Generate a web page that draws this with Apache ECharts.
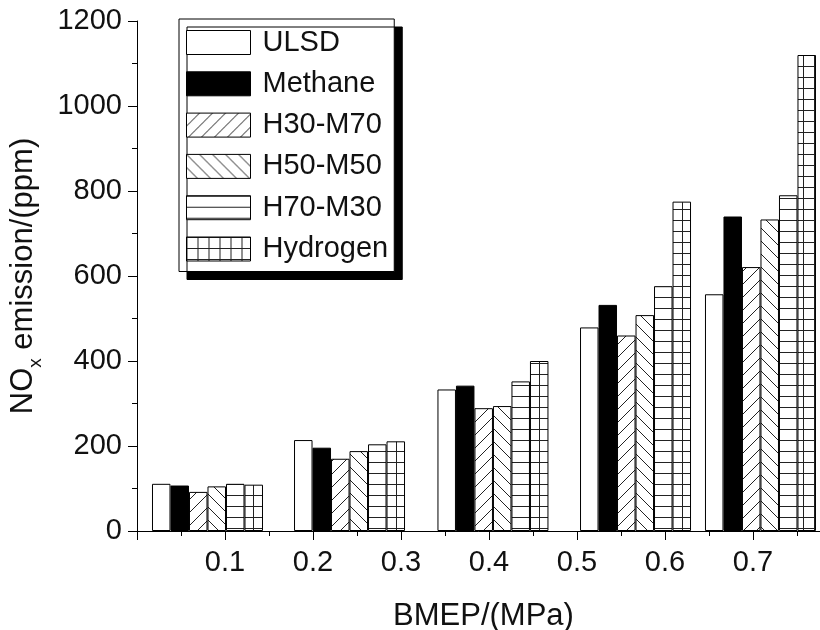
<!DOCTYPE html>
<html><head><meta charset="utf-8">
<script src="https://cdn.jsdelivr.net/npm/echarts@6/dist/echarts.min.js"></script>
<style>html,body{margin:0;padding:0;background:#fff}#c{width:820px;height:630px}</style>
</head><body><div id="c"></div>
<script>
// ---- data ----
const seriesNames = ['ULSD', 'Methane', 'H30-M70', 'H50-M50', 'H70-M30', 'Hydrogen'];
const groupPositions = [0.0801, 0.2415, 0.4045, 0.5665, 0.7085]; // x positions of bar groups (BMEP axis)
const ulsd     = [111, 214, 333, 479, 557];
const methane  = [107, 196, 342, 532, 740];
const h30m70   = [92, 170, 289, 460, 621];
const h50m50   = [105, 188, 294, 508, 733];
const h70m30   = [111, 204, 352, 576, 790];
const hydrogen = [109, 211, 400, 775, 1120];
const xAxisTitle = 'BMEP/(MPa)';

// ---- patterns ----
function tile(w, h, draw) {
  const c = document.createElement('canvas');
  c.width = w; c.height = h;
  const g = c.getContext('2d');
  g.fillStyle = '#fff'; g.fillRect(0, 0, w, h);
  g.strokeStyle = '#222'; g.lineWidth = 1;
  draw(g, w, h);
  return { image: c, repeat: 'repeat' };
}
const pSlash = tile(13, 13, (g, w, h) => {
  g.beginPath();
  for (const k of [-1, 0, 1]) { g.moveTo(k * w, h); g.lineTo(k * w + w, 0); }
  g.stroke();
});
const pBack = tile(13, 13, (g, w, h) => {
  g.beginPath();
  for (const k of [-1, 0, 1]) { g.moveTo(k * w, 0); g.lineTo(k * w + w, h); }
  g.stroke();
});
const pHoriz = tile(12, 11, (g, w, h) => {
  g.beginPath(); g.moveTo(0, 0.5); g.lineTo(w, 0.5); g.stroke();
});
const pGrid = tile(11, 11, (g, w, h) => {
  g.beginPath(); g.moveTo(0, 0.5); g.lineTo(w, 0.5); g.moveTo(0.5, 0); g.lineTo(0.5, h); g.stroke();
});
const fills = ['#ffffff', '#000000', pSlash, pBack, pHoriz, pGrid];
const values = [ulsd, methane, h30m70, h50m50, h70m30, hydrogen];

const FONT = 'Liberation Sans';
const chart = echarts.init(document.getElementById('c'), null, { renderer: 'canvas' });
chart.setOption({
  animation: false,
  backgroundColor: '#fff',
  textStyle: { fontFamily: FONT },
  grid: { left: 137, top: 21, bottom: 99, right: -10, containLabel: false, outerBoundsMode: 'none' },
  legend: {
    orient: 'vertical', left: 179, top: 19,
    itemWidth: 64, itemHeight: 24, itemGap: 12.3,
    padding: [9, 6, 8, 7],
    backgroundColor: '#fff', borderColor: '#000', borderWidth: 1,
    shadowColor: '#000', shadowOffsetX: 8, shadowOffsetY: 8, shadowBlur: 0,
    icon: 'rect',
    itemStyle: { borderColor: '#000', borderWidth: 1 },
    textStyle: { fontFamily: FONT, fontSize: 29, color: '#111', lineHeight: 24, padding: [0, 0, 0, 7] },
    data: seriesNames
  },
  xAxis: {
    type: 'value', min: 0, max: 0.7875, interval: 0.1,
    axisLine: { lineStyle: { color: '#000', width: 1 } },
    axisTick: { length: 9, lineStyle: { color: '#000' } },
    minorTick: { show: true, splitNumber: 2, length: 5, lineStyle: { color: '#000' } },
    splitLine: { show: false },
    axisLabel: { fontSize: 29, color: '#111', margin: 17, showMinLabel: false, showMaxLabel: false,
      formatter: v => v.toFixed(1) },
    name: xAxisTitle, nameLocation: 'middle', nameGap: 70,
    nameTextStyle: { fontSize: 31, color: '#111', fontFamily: FONT }
  },
  yAxis: {
    type: 'value', min: 0, max: 1200, interval: 200,
    axisLine: { show: true, lineStyle: { color: '#000', width: 1 } },
    axisTick: { show: true, length: 9, lineStyle: { color: '#000' } },
    minorTick: { show: true, splitNumber: 2, length: 5, lineStyle: { color: '#000' } },
    splitLine: { show: false },
    axisLabel: { fontSize: 29, color: '#111', margin: 15, formatter: v => String(v) },
    name: '{a|NO}{b|x}{a| emission/(ppm)}', nameLocation: 'middle', nameGap: 92, nameRotate: 90,
    nameTextStyle: {
      rich: {
        a: { fontSize: 31, color: '#111', fontFamily: FONT, lineHeight: 44, verticalAlign: 'middle' },
        b: { fontSize: 19, color: '#111', fontFamily: FONT, lineHeight: 24, verticalAlign: 'bottom' }
      }
    }
  },
  series: seriesNames.map((name, i) => ({
    name, type: 'bar',
    barWidth: 18.5, barGap: '0%',
    itemStyle: { color: fills[i], borderColor: '#000', borderWidth: 1 },
    data: groupPositions.map((x, j) => [x, values[i][j]])
  }))
});
</script></body></html>
